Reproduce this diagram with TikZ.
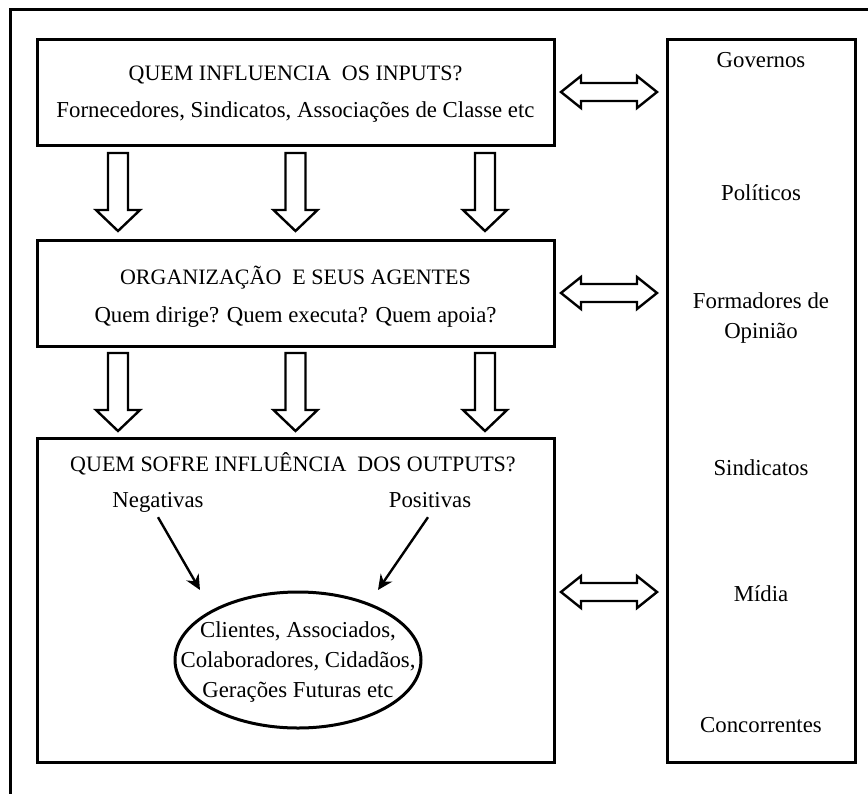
\documentclass[tikz,border=0pt]{standalone}
\usepackage{fontspec}
\setmainfont{Liberation Serif}
\usetikzlibrary{arrows.meta,shapes.geometric}

\tikzset{
  frame/.style={line width=3pt},
  box/.style={draw, line width=3pt, inner sep=0pt},
  lines/.style={font=\fontsize{22.8}{30}\selectfont, inner sep=1pt, align=center},
  label/.style={lines, text height=15pt, text depth=5pt},
  caps/.style={label, font=\fontsize{22}{26}\selectfont},
  blockline/.style={draw, line width=2.4pt, fill=white, line join=miter},
  thinarrow/.style={line width=2.4pt, -{Stealth[length=15pt,width=14pt]}},
  downarrow/.pic={
    \path[blockline] (-10,0) -- (-10,57) -- (-22,57) -- (0,78) -- (22,57)
      -- (10,57) -- (10,0) -- cycle;
  },
  twoway/.pic={
    \path[blockline] (-48,0) -- (-28,-16) -- (-28,-9) -- (28,-9) -- (28,-16)
      -- (48,0) -- (28,16) -- (28,9) -- (-28,9) -- (-28,16) -- cycle;
  },
}

\begin{document}
\begin{tikzpicture}[x=1pt, y=-1pt]
  \useasboundingbox (0,0) rectangle (868,793);
  \clip (0,0) rectangle (868,793);

  % outer frame (only its top and left sides fall inside the page)
  \draw[frame] (10,820) -- (10,9) -- (900,9);

  % main boxes
  \node[box, minimum width=517pt, minimum height=106pt] (inputs) at (295.5,92) {};
  \node[box, minimum width=517pt, minimum height=106pt] (org) at (295.5,293) {};
  \node[box, minimum width=517pt, minimum height=324pt] (outputs) at (295.5,600) {};
  \node[box, minimum width=188pt, minimum height=723pt] (env) at (761,400.5) {};

  % texts of the input box
  \node[caps] (inT) at (295.5,75) {QUEM INFLUENCIA\ \ OS INPUTS?};
  \node[label] (inS) at (295.5,112) {Fornecedores, Sindicatos, Associações de Classe etc};

  % texts of the organisation box
  \node[caps] (orgT) at (295.5,279) {ORGANIZAÇÃO\ \ E SEUS AGENTES};
  \node[label] (orgS) at (295.5,317) {Quem dirige? Quem executa? Quem apoia?};

  % texts of the output box
  \node[caps] (outT) at (293,466) {QUEM SOFRE INFLUÊNCIA\ \ DOS OUTPUTS?};
  \node[label] (neg) at (158,502) {Negativas};
  \node[label] (pos) at (430,502) {Positivas};
  \node[draw, ellipse, line width=3pt, minimum width=246pt, minimum height=136pt,
        inner sep=0pt] (ell) at (298,660) {};
  \node[lines] (ellT) at (298,662)
    {Clientes, Associados,\\Colaboradores, Cidadãos,\\Gerações Futuras etc};

  \coordinate (negTip) at (200,590);
  \coordinate (posTip) at (378,590);
  \draw[thinarrow] (neg.south) ++(0,4) -- (negTip);
  \draw[thinarrow] (pos.south) ++(-2,4) -- (posTip);

  % environment column
  \node[label] (gov) at (761,62) {Governos};
  \node[label] (pol) at (761,195) {Políticos};
  \node[lines] (form) at (761,318) {Formadores de\\Opinião};
  \node[label] (sind) at (761,470) {Sindicatos};
  \node[label] (mid) at (761,596) {Mídia};
  \node[label] (conc) at (761,727) {Concorrentes};

  % block arrows between the boxes
  \pic at (118,153) {downarrow};
  \pic at (295.5,153) {downarrow};
  \pic at (485,153) {downarrow};
  \pic at (118,353) {downarrow};
  \pic at (295.5,353) {downarrow};
  \pic at (485,353) {downarrow};

  \pic at (609,92) {twoway};
  \pic at (609,293) {twoway};
  \pic at (609,592) {twoway};
\end{tikzpicture}
\end{document}
